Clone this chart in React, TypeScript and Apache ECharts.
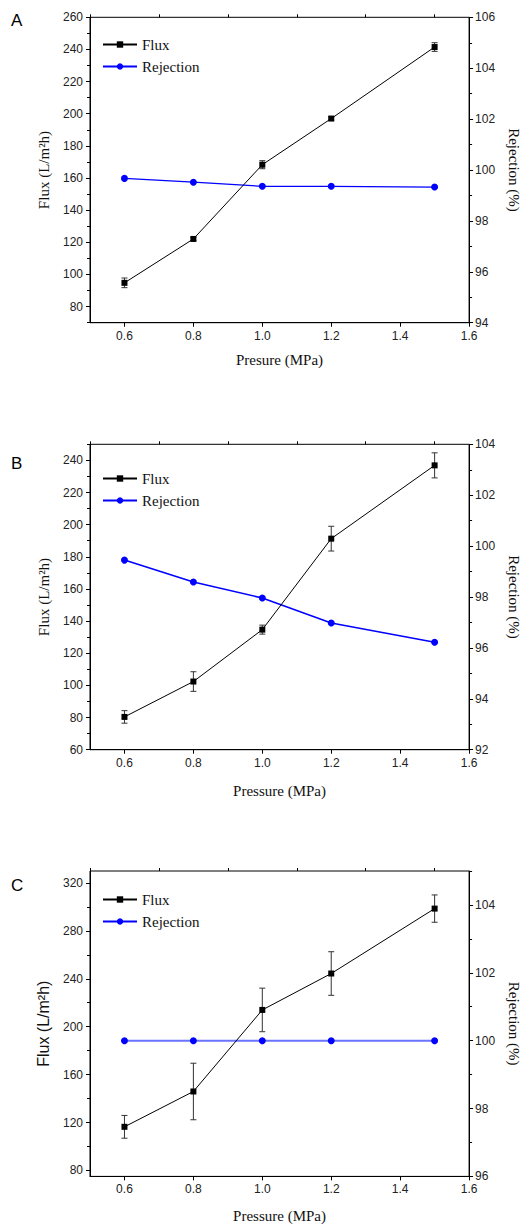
import React, { useEffect, useRef } from "react";
import * as echarts from "echarts";

const pressure = [0.6, 0.8, 1.0, 1.2, 1.5];

const fluxA = [94.8, 122.1, 168.3, 197.0, 241.5];
const fluxErrA = [3.0, 1.0, 2.5, 1.0, 2.7];
const rejA = [99.67, 99.52, 99.36, 99.36, 99.33];

const fluxB = [80.4, 102.4, 134.7, 191.3, 236.9];
const fluxErrB = [3.9, 6.1, 2.8, 7.7, 7.8];
const rejB = [99.45, 98.59, 97.96, 96.98, 96.22];

const fluxC = [116.4, 145.9, 214.0, 244.4, 298.6];
const fluxErrC = [9.5, 23.6, 18.2, 18.2, 11.4];
const rejC = [100, 100, 100, 100, 100];

const xMajor = [0.6, 0.8, 1.0, 1.2, 1.4, 1.6];
const xMinor = [0.5, 0.7, 0.9, 1.1, 1.3, 1.5];

const panels = [
  {
    letter: "A", top: 17.3, flux: fluxA, err: fluxErrA, rej: rejA,
    xName: "Presure (MPa)", xGap: 30,
    left: { min: 70, max: 260, major: [80, 100, 120, 140, 160, 180, 200, 220, 240, 260], minor: [70, 90, 110, 130, 150, 170, 190, 210, 230, 250] },
    right: { min: 94, max: 106, major: [94, 96, 98, 100, 102, 104, 106], minor: [95, 97, 99, 101, 103, 105] },
    letterY: 12, legendTop: 32, rejColor: "#0000ff", rejWidth: 1.3, leftFont: "Liberation Serif", leftSize: 15,
  },
  {
    letter: "B", top: 444.3, flux: fluxB, err: fluxErrB, rej: rejB,
    xName: "Pressure (MPa)", xGap: 34,
    left: { min: 60, max: 250, major: [60, 80, 100, 120, 140, 160, 180, 200, 220, 240], minor: [70, 90, 110, 130, 150, 170, 190, 210, 230, 250] },
    right: { min: 92, max: 104, major: [92, 94, 96, 98, 100, 102, 104], minor: [93, 95, 97, 99, 101, 103] },
    letterY: 455, legendTop: 466, rejColor: "#0000ff", rejWidth: 1.6, leftFont: "Liberation Serif", leftSize: 15,
  },
  {
    letter: "C", top: 871, flux: fluxC, err: fluxErrC, rej: rejC,
    xName: "Pressure (MPa)", xGap: 32,
    left: { min: 75, max: 330, major: [80, 120, 160, 200, 240, 280, 320], minor: [100, 140, 180, 220, 260, 300] },
    right: { min: 96, max: 105, major: [96, 98, 100, 102, 104], minor: [97, 99, 101, 103, 105] },
    letterY: 877, legendTop: 887, rejColor: "#6a74ff", rejWidth: 2, leftFont: "Liberation Sans", leftSize: 16,
  },
];

const GRID_H = 305.4;

export default function App() {
  const ref = useRef<HTMLDivElement>(null);
  useEffect(() => {
    document.body.style.margin = "0";
    const chart = echarts.init(ref.current!, null, { renderer: "svg" });
    const grids: any[] = [];
    const xAxes: any[] = [];
    const yAxes: any[] = [];
    const series: any[] = [];
    const legends: any[] = [];
    const graphics: any[] = [];
    const labelStyle = { color: "#222", fontFamily: "Liberation Sans", fontSize: 12 };

    panels.forEach((p, i) => {
      grids.push({ left: 90, width: 381.7, top: p.top, height: GRID_H, show: true, borderColor: "#000", borderWidth: 1, backgroundColor: "transparent" });
      const xi = xAxes.length;
      xAxes.push({
        type: "value", gridIndex: i, min: 0.5, max: 1.6,
        name: p.xName, nameLocation: "middle", nameGap: p.xGap,
        nameTextStyle: { fontFamily: "Liberation Serif", fontSize: 15, color: "#111" },
        axisLine: { show: true, onZero: false, lineStyle: { color: "#000", width: 1 } },
        axisTick: { show: true, length: 4, customValues: xMajor, lineStyle: { color: "#000" } },
        axisLabel: { show: true, customValues: xMajor, formatter: (v: number) => v.toFixed(1), margin: 7, ...labelStyle },
        splitLine: { show: false },
      });
      xAxes.push({
        type: "value", gridIndex: i, min: 0.5, max: 1.6,
        axisLine: { show: false }, axisTick: { show: true, length: 3, customValues: xMinor, lineStyle: { color: "#000" } },
        axisLabel: { show: false }, splitLine: { show: false },
      });
      const yl = yAxes.length;
      yAxes.push({
        type: "value", gridIndex: i, position: "left", min: p.left.min, max: p.left.max,
        name: "Flux (L/m²h)", nameLocation: "middle", nameGap: 39, nameRotate: 90,
        nameTextStyle: { fontFamily: p.leftFont, fontSize: p.leftSize, color: "#111" },
        axisLine: { show: true, onZero: false, lineStyle: { color: "#000", width: 1 } },
        axisTick: { show: true, length: 4, customValues: p.left.major, lineStyle: { color: "#000" } },
        axisLabel: { show: true, customValues: p.left.major, margin: 7, ...labelStyle },
        splitLine: { show: false },
      });
      yAxes.push({
        type: "value", gridIndex: i, position: "left", min: p.left.min, max: p.left.max,
        axisLine: { show: false }, axisTick: { show: true, length: 3, customValues: p.left.minor, lineStyle: { color: "#000" } },
        axisLabel: { show: false }, splitLine: { show: false },
      });
      const yr = yAxes.length;
      yAxes.push({
        type: "value", gridIndex: i, position: "right", min: p.right.min, max: p.right.max,
        name: "Rejection (%)", nameLocation: "middle", nameGap: 35, nameRotate: -90,
        nameTextStyle: { fontFamily: "Liberation Serif", fontSize: 15, color: "#111" },
        axisLine: { show: true, onZero: false, lineStyle: { color: "#000", width: 1 } },
        axisTick: { show: true, length: 4, customValues: p.right.major, lineStyle: { color: "#000" } },
        axisLabel: { show: true, customValues: p.right.major, margin: 6, ...labelStyle },
        splitLine: { show: false },
      });
      yAxes.push({
        type: "value", gridIndex: i, position: "right", min: p.right.min, max: p.right.max,
        axisLine: { show: false }, axisTick: { show: true, length: 3, customValues: p.right.minor, lineStyle: { color: "#000" } },
        axisLabel: { show: false }, splitLine: { show: false },
      });

      const errData = pressure.map((x, k) => [x, p.flux[k] - p.err[k], p.flux[k] + p.err[k]]);
      series.push({
        type: "custom", xAxisIndex: xi, yAxisIndex: yl, z: 1, silent: true,
        data: errData,
        encode: { x: 0, y: [1, 2] },
        renderItem: (params: any, api: any) => {
          const x = api.value(0);
          const lo = api.coord([x, api.value(1)]);
          const hi = api.coord([x, api.value(2)]);
          const st = { stroke: "#333", lineWidth: 1 };
          return {
            type: "group",
            children: [
              { type: "line", shape: { x1: lo[0], y1: lo[1], x2: hi[0], y2: hi[1] }, style: st },
              { type: "line", shape: { x1: lo[0] - 3, y1: lo[1], x2: lo[0] + 3, y2: lo[1] }, style: st },
              { type: "line", shape: { x1: hi[0] - 3, y1: hi[1], x2: hi[0] + 3, y2: hi[1] }, style: st },
            ],
          };
        },
      });
      series.push({
        name: "Flux", type: "line", xAxisIndex: xi, yAxisIndex: yl, z: 3,
        data: pressure.map((x, k) => [x, p.flux[k]]),
        symbol: "rect", symbolSize: 6, showSymbol: true,
        lineStyle: { color: "#000", width: 1 }, itemStyle: { color: "#000" },
      });
      series.push({
        name: "Rejection", type: "line", xAxisIndex: xi, yAxisIndex: yr, z: 2,
        data: pressure.map((x, k) => [x, p.rej[k]]),
        symbol: "circle", symbolSize: 7, showSymbol: true,
        lineStyle: { color: p.rejColor, width: p.rejWidth }, itemStyle: { color: "#0000ff" },
      });
      legends.push({
        orient: "vertical", left: 97, top: p.legendTop, itemWidth: 34, itemHeight: 8, itemGap: 7,
        data: ["Flux", "Rejection"],
        textStyle: { fontFamily: "Liberation Serif", fontSize: 15, color: "#111", padding: [0, 0, 0, 0] },
        selectedMode: false,
      });
      graphics.push({
        type: "text", left: 11, top: p.letterY,
        style: { text: p.letter, font: "17px 'Liberation Sans'", fill: "#000" },
      });
    });

    chart.setOption({
      animation: false,
      backgroundColor: "#fff",
      grid: grids,
      xAxis: xAxes,
      yAxis: yAxes,
      series,
      legend: legends,
      graphic: graphics,
    });
    return () => chart.dispose();
  }, []);
  return <div ref={ref} style={{ width: 529, height: 1226 }} />;
}
